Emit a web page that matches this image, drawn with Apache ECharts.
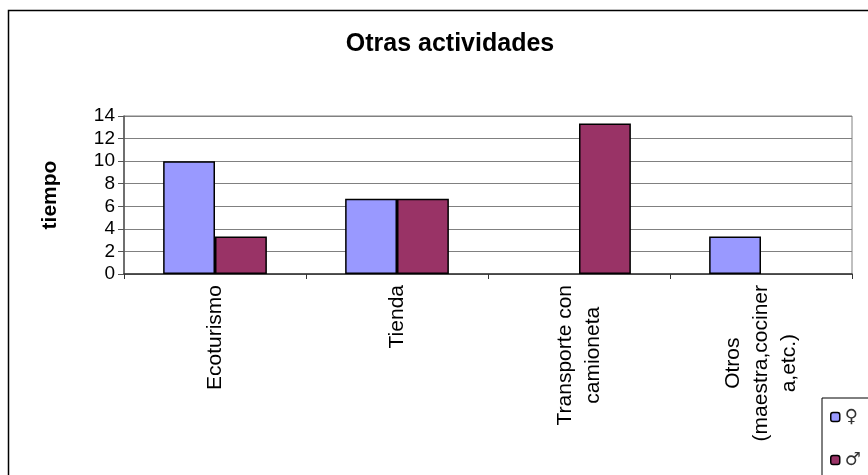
<!DOCTYPE html>
<html>
<head>
<meta charset="utf-8">
<script src="https://cdn.jsdelivr.net/npm/echarts@6/dist/echarts.min.js"></script>
<style>
html,body{margin:0;padding:0;background:#fff;}
#chart{width:868px;height:475px;}
</style>
</head>
<body>
<div id="chart"></div>
<script>
const categories = ['Ecoturismo', 'Tienda', 'Transporte con\ncamioneta', 'Otros\n(maestra,cociner\na,etc.)'];
const femaleValues = [10, 6.67, 0, 3.33];
const maleValues = [3.33, 6.67, 13.33, 0];
const seriesNames = ['\u2640', '\u2642'];
const yTicks = [0, 2, 4, 6, 8, 10, 12, 14];
const titleText = 'Otras actividades';
const yAxisName = 'tiempo';

function noZero(arr) { return arr.map(function (v) { return v === 0 ? null : v; }); }

const chart = echarts.init(document.getElementById('chart'), null, {renderer: 'canvas'});
const FONT = '"Liberation Sans", Arial, sans-serif';
chart.setOption({
  animation: false,
  backgroundColor: '#fff',
  title: {
    text: titleText,
    left: 445,
    top: 27,
    textAlign: 'center',
    textStyle: {fontFamily: FONT, fontWeight: 'bold', fontSize: 25, color: '#000'}
  },
  graphic: [{
    type: 'rect',
    shape: {x: 8.5, y: 10.5, width: 900, height: 500},
    style: {fill: 'none', stroke: '#000', lineWidth: 1.5},
    silent: true, z: -1
  }],
  legend: {
    orient: 'vertical',
    left: 822,
    top: 398,
    height: 90,
    padding: [9, 30, 6, 8],
    itemGap: 23,
    itemWidth: 9,
    itemHeight: 9,
    itemStyle: {borderColor: '#000', borderWidth: 1.5},
    borderColor: '#000',
    borderWidth: 1,
    backgroundColor: '#fff',
    textStyle: {fontFamily: '"DejaVu Sans", sans-serif', fontSize: 18, color: '#333', lineHeight: 20},
    data: seriesNames
  },
  grid: {
    left: 124, right: 16, top: 116, bottom: 201,
    show: true, borderColor: '#808080', borderWidth: 1, backgroundColor: 'transparent'
  },
  xAxis: {
    type: 'category',
    data: categories,
    axisLine: {lineStyle: {color: '#333', width: 1.5}},
    axisTick: {show: true, length: 5, lineStyle: {color: '#333'}},
    axisLabel: {
      interval: 0,
      rotate: 90,
      margin: 11,
      fontFamily: FONT,
      fontSize: 21,
      color: '#000',
      lineHeight: 28,
      formatter: function (v) {
        return v.split('\n').map(function (s) { return '{c|' + s + '}'; }).join('\n');
      },
      rich: {c: {align: 'center', fontFamily: FONT, fontSize: 21, lineHeight: 28, color: '#000'}}
    }
  },
  yAxis: {
    type: 'value',
    min: yTicks[0],
    max: yTicks[yTicks.length - 1],
    interval: 2,
    name: yAxisName,
    nameLocation: 'middle',
    nameGap: 63,
    nameRotate: 90,
    nameTextStyle: {fontFamily: FONT, fontWeight: 'bold', fontSize: 21, color: '#000'},
    axisLine: {show: true, lineStyle: {color: '#555', width: 1.5}},
    axisTick: {show: true, length: 6, lineStyle: {color: '#555'}},
    axisLabel: {margin: 9, fontFamily: FONT, fontSize: 19, color: '#000'},
    splitLine: {show: true, lineStyle: {color: '#808080', width: 1}}
  },
  series: [{
    name: seriesNames[0],
    type: 'bar',
    data: noZero(femaleValues),
    barGap: '0%',
    barCategoryGap: '43%',
    itemStyle: {color: '#9999FF', borderColor: '#000', borderWidth: 1.5}
  }, {
    name: seriesNames[1],
    type: 'bar',
    data: noZero(maleValues),
    barGap: '0%',
    barCategoryGap: '43%',
    itemStyle: {color: '#993366', borderColor: '#000', borderWidth: 1.5}
  }]
});
</script>
</body>
</html>
